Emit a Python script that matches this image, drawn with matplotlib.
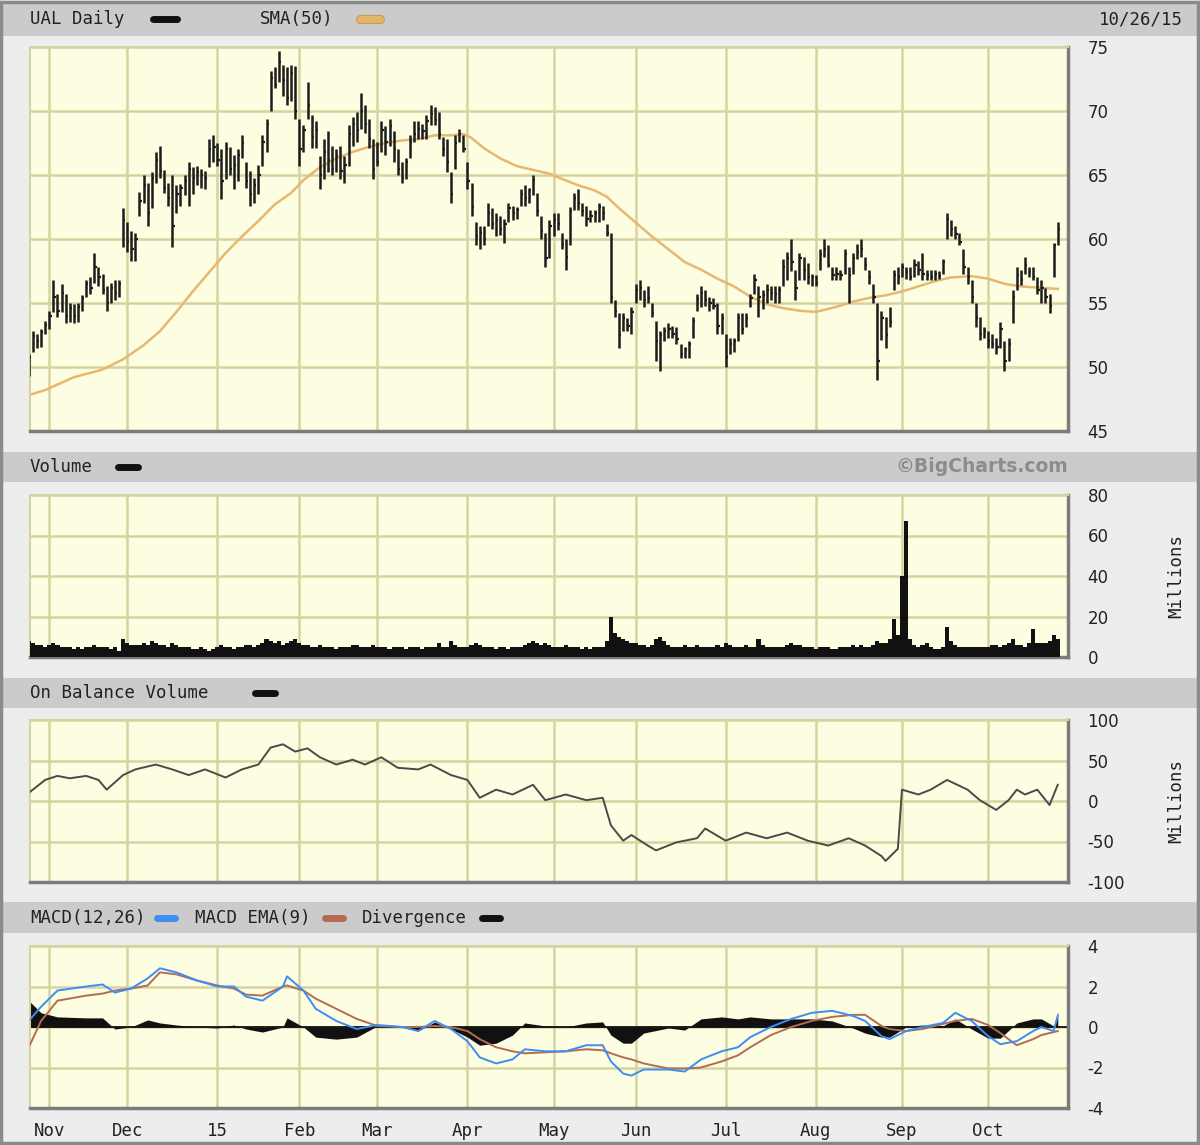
import numpy as np
import pandas as pd
import matplotlib
matplotlib.use("Agg")
import matplotlib.pyplot as plt
from matplotlib.patches import Rectangle
from matplotlib.lines import Line2D

plt.rcParams["axes.unicode_minus"] = False

# ---------------------------------------------------------------- data
holidays = ["2014-11-27", "2014-12-25", "2015-01-01", "2015-01-19", "2015-02-16",
            "2015-04-03", "2015-05-25", "2015-07-03", "2015-09-07"]
month_labels = ["Nov", "Dec", "15", "Feb", "Mar", "Apr", "May", "Jun", "Jul", "Aug", "Sep", "Oct"]

high = [51.0, 52.8, 52.6, 53.0, 53.6, 54.4, 56.8, 55.7, 56.5, 55.7,
        55.0, 54.9, 55.0, 55.6, 56.8, 57.0, 58.9, 57.8, 57.3, 56.3,
        56.6, 56.8, 56.8, 62.4, 61.3, 60.6, 60.5, 63.7, 65.0, 64.4,
        65.2, 66.8, 67.3, 65.4, 64.4, 65.0, 64.2, 64.3, 65.0, 66.0,
        65.6, 65.7, 65.5, 65.3, 67.8, 68.1, 67.5, 67.0, 67.6, 67.2,
        66.6, 67.0, 68.1, 66.0, 65.3, 64.8, 65.8, 68.1, 69.4, 73.1,
        73.4, 74.7, 73.6, 73.4, 73.6, 73.5, 69.4, 68.9, 72.3, 69.7,
        69.2, 66.5, 67.8, 68.4, 67.3, 67.0, 67.3, 66.5, 68.9, 69.5,
        69.9, 71.4, 70.5, 69.4, 67.8, 67.6, 69.2, 68.8, 69.4, 68.4,
        67.0, 66.0, 66.3, 68.1, 69.2, 69.2, 69.0, 69.7, 70.5, 70.3,
        69.9, 68.0, 67.8, 65.2, 68.1, 68.6, 68.1, 66.0, 64.4, 61.3,
        61.0, 61.0, 62.8, 62.4, 62.0, 61.8, 61.6, 62.8, 62.6, 62.5,
        63.9, 64.2, 64.0, 65.0, 63.6, 61.8, 60.5, 61.5, 62.0, 62.0,
        60.5, 60.0, 62.5, 63.6, 63.9, 62.8, 62.6, 62.3, 62.3, 62.8,
        62.6, 61.2, 60.5, 55.2, 54.2, 54.2, 53.8, 54.7, 56.5, 56.8,
        56.0, 56.3, 55.0, 53.6, 52.8, 53.1, 53.4, 53.2, 53.1, 51.8,
        51.6, 52.0, 53.9, 55.7, 56.3, 56.0, 55.5, 55.4, 55.0, 54.2,
        52.6, 52.3, 52.3, 54.2, 54.2, 54.2, 55.7, 57.3, 56.3, 56.0,
        56.5, 56.3, 56.3, 56.3, 58.4, 59.0, 60.0, 57.6, 58.9, 58.6,
        58.1, 57.3, 57.2, 59.2, 60.0, 59.5, 57.8, 57.8, 57.6, 59.2,
        57.8, 58.9, 59.6, 60.0, 58.6, 57.6, 56.5, 55.0, 54.4, 53.9,
        54.7, 57.6, 57.8, 58.1, 57.8, 57.8, 58.4, 58.3, 58.9, 57.6,
        57.6, 57.6, 57.5, 58.4, 62.0, 61.5, 61.0, 60.5, 59.2, 57.8,
        56.8, 55.0, 53.9, 53.1, 52.8, 52.6, 52.3, 53.5, 52.0, 52.3,
        56.0, 57.8, 57.6, 58.6, 57.8, 57.8, 57.0, 56.8, 56.2, 55.7,
        59.7, 61.3]
low = [49.3, 51.2, 51.5, 51.6, 52.6, 53.0, 54.3, 53.9, 54.3, 53.4,
       53.5, 53.4, 53.5, 54.4, 55.5, 55.7, 56.6, 56.3, 55.7, 54.4,
       55.0, 55.2, 55.5, 59.4, 59.0, 58.3, 58.3, 61.8, 62.8, 61.0,
       62.4, 64.4, 64.8, 63.6, 62.6, 59.4, 62.0, 62.6, 63.4, 62.6,
       63.5, 64.2, 64.0, 63.9, 65.6, 66.0, 65.7, 63.1, 64.7, 65.0,
       63.9, 64.5, 66.3, 64.0, 62.6, 62.8, 63.5, 65.7, 66.8, 70.0,
       71.8, 72.3, 71.2, 70.5, 70.8, 69.4, 65.7, 66.8, 69.4, 67.1,
       67.1, 63.9, 64.7, 65.2, 65.0, 65.2, 64.7, 64.4, 65.7, 67.3,
       67.6, 68.6, 68.3, 67.1, 64.7, 65.7, 66.8, 66.6, 67.3, 66.0,
       65.0, 64.4, 64.7, 66.3, 67.6, 67.8, 67.8, 67.8, 68.9, 68.9,
       67.8, 66.5, 65.2, 62.8, 65.5, 67.6, 66.8, 63.9, 61.8, 59.5,
       59.2, 59.5, 61.0, 60.8, 60.2, 60.3, 59.7, 61.3, 61.5, 61.6,
       62.6, 62.6, 62.8, 63.4, 61.8, 60.0, 57.8, 58.5, 60.2, 60.7,
       59.2, 57.6, 59.5, 62.3, 62.3, 61.8, 61.0, 61.3, 61.3, 61.3,
       61.5, 60.2, 55.0, 53.9, 51.5, 52.8, 52.8, 52.6, 55.0, 55.2,
       54.7, 55.0, 53.9, 50.5, 49.7, 52.0, 52.3, 52.3, 51.8, 50.7,
       50.7, 50.7, 52.3, 54.4, 54.7, 54.8, 54.4, 54.5, 52.6, 52.6,
       50.0, 51.0, 51.2, 52.0, 52.6, 53.1, 54.7, 55.7, 53.9, 54.5,
       55.0, 55.2, 55.0, 55.0, 56.3, 56.8, 57.5, 55.2, 56.8, 56.8,
       56.5, 56.3, 56.3, 57.6, 58.6, 57.8, 56.8, 56.8, 56.8, 57.3,
       55.0, 57.3, 58.4, 58.6, 57.6, 56.5, 55.0, 49.0, 52.1, 51.5,
       53.1, 56.0, 56.5, 57.0, 56.9, 56.8, 57.0, 57.2, 56.8, 56.8,
       56.8, 56.8, 56.9, 57.3, 60.0, 60.2, 60.0, 59.5, 57.3, 56.5,
       55.0, 53.1, 52.1, 52.3, 51.5, 51.5, 51.0, 51.5, 49.7, 50.5,
       53.4, 56.0, 56.4, 57.3, 57.0, 56.8, 55.7, 55.0, 55.0, 54.2,
       57.0, 59.5]
close = [50.8, 52.4, 52.0, 52.7, 53.3, 54.0, 55.5, 54.4, 55.8, 54.0,
         54.6, 54.0, 54.7, 55.4, 56.5, 56.2, 57.8, 57.0, 56.0, 55.0,
         56.2, 55.8, 56.5, 61.5, 59.8, 59.2, 60.0, 63.0, 64.2, 62.0,
         64.8, 66.2, 65.3, 64.0, 63.2, 61.0, 63.5, 64.0, 64.5, 65.5,
         64.8, 65.2, 65.0, 64.8, 67.0, 67.2, 66.2, 64.5, 67.0, 65.5,
         65.8, 66.6, 67.5, 64.5, 63.5, 64.2, 65.0, 67.6, 69.0, 72.6,
         72.0, 73.8, 72.4, 71.0, 73.0, 70.0, 67.0, 68.5, 70.5, 68.0,
         68.5, 65.0, 66.8, 66.2, 65.5, 66.5, 65.3, 65.8, 68.2, 69.0,
         68.5, 70.0, 69.0, 67.8, 65.5, 66.0, 68.5, 67.6, 68.8, 67.0,
         65.5, 64.8, 66.0, 67.6, 68.2, 68.6, 68.4, 69.2, 69.8, 69.3,
         68.2, 67.0, 66.0, 63.5, 67.5, 68.2, 67.0, 64.5, 62.5, 60.2,
         60.5, 60.0, 62.0, 61.2, 61.5, 60.8, 61.2, 62.4, 62.0, 62.3,
         63.5, 63.2, 63.8, 64.6, 62.2, 60.6, 58.5, 61.0, 61.5, 61.2,
         59.6, 58.6, 62.2, 63.2, 62.8, 62.2, 61.6, 61.8, 62.0, 62.5,
         62.0, 60.5, 55.5, 54.4, 52.5, 53.8, 53.2, 54.3, 56.0, 56.2,
         55.2, 55.4, 54.2, 52.0, 52.5, 52.8, 53.0, 52.6, 52.2, 51.0,
         51.4, 51.8, 53.6, 55.3, 55.8, 55.2, 55.0, 54.8, 53.2, 53.8,
         50.8, 51.8, 52.0, 53.8, 53.0, 53.8, 55.4, 56.8, 55.5, 55.6,
         56.0, 55.8, 55.7, 56.0, 57.8, 58.5, 58.2, 56.2, 58.5, 57.6,
         57.0, 57.0, 56.6, 58.8, 59.2, 58.0, 57.2, 57.3, 57.2, 58.8,
         57.2, 58.5, 59.0, 59.2, 58.0, 57.0, 55.5, 50.5, 53.8, 52.5,
         53.5, 57.2, 57.0, 57.8, 57.4, 57.0, 58.0, 57.6, 57.3, 57.2,
         57.0, 57.3, 57.1, 58.2, 61.6, 60.8, 60.4, 59.8, 57.8, 57.0,
         55.5, 53.8, 52.6, 52.8, 52.0, 51.8, 51.6, 53.0, 50.5, 51.8,
         55.5, 57.2, 56.8, 58.0, 57.4, 57.0, 56.0, 56.2, 55.5, 54.8,
         59.5, 60.8]

# 50-day simple moving average, read at selected sessions
sma_day = [0, 4, 11, 18, 23, 28, 32, 36, 40, 44, 48, 52, 56, 60, 64, 67, 71, 75, 79, 83,
           87, 91, 95, 99, 103, 106, 108, 111, 115, 119, 123, 127, 130, 134, 138, 141, 144,
           148, 152, 156, 160, 164, 168, 172, 176, 180, 184, 188, 192, 197, 201, 205, 209,
           213, 217, 221, 225, 230, 234, 238, 242, 246, 251]
sma_val = [47.8, 48.2, 49.2, 49.8, 50.6, 51.7, 52.8, 54.3, 55.9, 57.4, 58.9, 60.2, 61.4,
           62.7, 63.6, 64.6, 65.6, 66.3, 66.8, 67.2, 67.5, 67.7, 67.8, 68.1, 68.1, 68.2,
           67.9, 67.1, 66.3, 65.7, 65.4, 65.1, 64.7, 64.2, 63.8, 63.3, 62.4, 61.3, 60.2,
           59.2, 58.2, 57.6, 56.9, 56.3, 55.5, 54.9, 54.6, 54.4, 54.3, 54.7, 55.1, 55.4,
           55.6, 55.9, 56.3, 56.7, 57.0, 57.1, 56.9, 56.5, 56.3, 56.2, 56.1]

# daily volume, millions of shares
volume = [8, 7, 6, 6, 5, 6, 7, 6, 5, 5,
          5, 4, 5, 4, 5, 5, 6, 5, 5, 5,
          4, 5, 3, 9, 7, 6, 6, 6, 7, 6,
          8, 7, 6, 6, 5, 7, 6, 5, 5, 5,
          4, 4, 5, 4, 3, 4, 5, 6, 5, 5,
          4, 5, 5, 6, 6, 5, 6, 7, 9, 8,
          7, 8, 6, 7, 8, 9, 7, 6, 6, 5,
          5, 6, 5, 5, 5, 4, 5, 5, 5, 6,
          6, 5, 5, 5, 6, 5, 5, 5, 4, 5,
          5, 5, 4, 5, 5, 5, 4, 5, 5, 5,
          7, 5, 5, 8, 6, 5, 5, 5, 6, 7,
          6, 5, 5, 5, 4, 5, 5, 4, 5, 5,
          5, 6, 7, 8, 7, 6, 7, 6, 5, 5,
          5, 6, 5, 5, 5, 4, 5, 4, 5, 5,
          5, 8, 20, 12, 10, 9, 8, 7, 7, 6,
          6, 5, 6, 9, 10, 8, 6, 5, 5, 5,
          6, 5, 5, 6, 5, 5, 5, 5, 6, 5,
          7, 6, 5, 5, 5, 6, 5, 5, 9, 6,
          5, 5, 5, 5, 5, 6, 7, 6, 6, 5,
          5, 5, 4, 5, 5, 5, 4, 4, 5, 5,
          5, 6, 5, 6, 5, 5, 6, 8, 7, 7,
          9, 19, 11, 40, 67, 9, 6, 5, 6, 7,
          5, 4, 4, 5, 15, 8, 6, 5, 5, 5,
          5, 5, 5, 5, 5, 6, 6, 5, 6, 7,
          9, 6, 6, 5, 7, 14, 7, 7, 7, 8,
          11, 9]

# on balance volume, millions, read at selected sessions
obv_day = [0, 4, 7, 10, 14, 17, 19, 23, 26, 31, 35, 39, 43, 48, 52, 56, 59, 62, 65, 68,
           71, 75, 79, 82, 86, 90, 95, 98, 103, 107, 110, 114, 118, 123, 126, 131, 136,
           140, 142, 145, 147, 151, 153, 158, 163, 165, 170, 175, 180, 185, 190, 195,
           200, 204, 208, 209, 212, 213, 217, 220, 224, 229, 232, 236, 239, 241, 243,
           246, 249, 251]
obv_val = [10, 26, 31, 28, 31, 26, 14, 32, 39, 45, 39, 32, 39, 29, 39, 45, 66, 70, 61, 65,
           54, 45, 51, 45, 54, 41, 39, 45, 32, 26, 4, 14, 8, 20, 1, 8, 1,
           4, -30, -49, -42, -55, -61, -51, -46, -34, -49, -39, -46, -39, -49, -55,
           -46, -55, -68, -74, -59, 14, 8, 14, 26, 14, 1, -11, 1, 14, 8,
           14, -5, 20]

# MACD(12,26) and its 9-day EMA, read at the same sessions
macd_day = [0, 3, 7, 14, 18, 21, 25, 29, 32, 36, 41, 46, 50, 53, 57, 62, 63, 67, 70, 75,
            80, 85, 91, 95, 99, 103, 107, 110, 114, 118, 121, 126, 131, 136, 140, 142,
            145, 147, 150, 156, 160, 164, 169, 173, 176, 181, 186, 191, 196, 201, 204,
            208, 210, 214, 218, 223, 226, 230, 234, 237, 241, 245, 247, 250, 251]
macd_val = [0.3, 1.0, 1.8, 2.0, 2.1, 1.7, 1.9, 2.4, 2.9, 2.7,
            2.3, 2.0, 2.0, 1.5, 1.3, 2.0, 2.5, 1.8, 0.9, 0.3,
            -0.1, 0.1, 0.0, -0.2, 0.3, -0.1, -0.7, -1.5, -1.8, -1.6,
            -1.1, -1.2, -1.2, -0.9, -0.9, -1.7, -2.3, -2.4, -2.1, -2.1,
            -2.2, -1.6, -1.2, -1.0, -0.5, 0.0, 0.4, 0.7, 0.8, 0.55,
            0.3, -0.45, -0.6, -0.2, 0.0, 0.2, 0.7, 0.3, -0.45, -0.85,
            -0.7, -0.2, 0.0, -0.2, 0.55]
signal_val = [-1.0, 0.3, 1.3, 1.55, 1.65, 1.8, 1.9, 2.05, 2.7, 2.6,
              2.3, 2.05, 1.9, 1.6, 1.55, 2.0, 2.05, 1.8, 1.4, 0.9,
              0.4, 0.05, 0.0, 0.0, 0.05, 0.0, -0.2, -0.6, -1.0, -1.2,
              -1.3, -1.25, -1.2, -1.1, -1.15, -1.3, -1.5, -1.6, -1.8, -2.05,
              -2.05, -2.0, -1.7, -1.4, -1.0, -0.4, 0.0, 0.3, 0.5, 0.6,
              0.6, 0.05, -0.1, -0.2, -0.1, 0.15, 0.3, 0.4, 0.1, -0.3,
              -0.9, -0.6, -0.4, -0.25, -0.2]

# ---------------------------------------------------------------- sessions
sessions = pd.bdate_range("2014-10-27", "2015-10-26")
sessions = sessions[~sessions.isin(pd.to_datetime(holidays))]
n = min(len(sessions), len(close))
idx = np.arange(n)
month_pos = [i for i in range(1, n) if sessions[i].month != sessions[i - 1].month]

# ---------------------------------------------------------------- style
W, H = 1200, 1145
BG = "#ededed"
BAND = "#cbcbcb"
PLOT_BG = "#fdfde1"
GRID = "#d7d3a0"
SHADOW = "#7c7c7c"
TXT = "#222222"
MONO = "DejaVu Sans Mono"

fig = plt.figure(figsize=(W / 100, H / 100), dpi=100, facecolor=BG)


def fx(px):
    return px / W


def fy(py):
    return 1 - py / H


def panel(top, bottom):
    ax = fig.add_axes([fx(30), fy(bottom), fx(1038), (bottom - top) / H])
    ax.set_facecolor(PLOT_BG)
    ax.set_xlim(0.3, 253.5)
    ax.set_xticks(month_pos)
    ax.tick_params(axis="x", length=0, labelbottom=False)
    ax.yaxis.tick_right()
    ax.tick_params(axis="y", length=0, pad=14, labelsize=12, labelcolor=TXT)
    ax.grid(True, color=GRID, lw=1.8)
    ax.set_axisbelow(True)
    for s in ("top", "left"):
        ax.spines[s].set_color(GRID)
        ax.spines[s].set_linewidth(1.5)
    for s in ("bottom", "right"):
        ax.spines[s].set_color(SHADOW)
        ax.spines[s].set_linewidth(2.5)
    for lab in ax.get_yticklabels():
        lab.set_horizontalalignment("left")
    return ax


def band(top, bottom):
    fig.patches.append(Rectangle((fx(3), fy(bottom)), fx(1194), (bottom - top) / H,
                                 transform=fig.transFigure, facecolor=BAND,
                                 edgecolor="none", zorder=0))


def header_text(px, py, s, **kw):
    fig.text(fx(px), fy(py), s, fontfamily=MONO, fontsize=12.5, color=TXT,
             va="center", ha="left", **kw)


def swatch(x0, x1, py, color, edge=None):
    if edge:
        fig.add_artist(Line2D([fx(x0), fx(x1)], [fy(py)] * 2, lw=6.5, color=edge,
                              solid_capstyle="round"))
    fig.add_artist(Line2D([fx(x0), fx(x1)], [fy(py)] * 2, lw=5, color=color,
                          solid_capstyle="round"))


# header bands
band(3, 36)
band(452, 482)
band(678, 708)
band(902, 933)

header_text(30, 19, "UAL Daily")
swatch(153, 177, 19, "#111111")
header_text(260, 19, "SMA(50)")
swatch(360, 380, 19, "#e3b66c", edge="#c99a52")
fig.text(fx(1183), fy(19), sessions[n - 1].strftime("%m/%d/%y"), fontfamily=MONO,
         fontsize=12.5, color=TXT, va="center", ha="right")

header_text(30, 467, "Volume")
swatch(118, 138, 467, "#111111")
fig.text(fx(1068), fy(467), "\u00a9BigCharts.com", fontfamily="DejaVu Sans",
         fontweight="bold", fontsize=13.5, color="#8c8c8c", va="center", ha="right")

header_text(30, 693, "On Balance Volume")
swatch(255, 275, 693, "#111111")

header_text(30, 918, "MACD(12,26)")
swatch(157, 175, 918, "#3d8ef2")
header_text(195, 918, "MACD EMA(9)")
swatch(325, 343, 918, "#b36c52")
header_text(362, 918, "Divergence")
swatch(482, 500, 918, "#111111")

# ---------------------------------------------------------------- price
ax1 = panel(47, 431)
ax1.set_ylim(45, 75)
ax1.set_yticks(np.arange(45, 76, 5))
ax1.plot(sma_day, sma_val, color="#e6b872", lw=1.8, zorder=2)
ax1.vlines(idx, low[:n], high[:n], color="#1c1c1c", lw=1.8, zorder=3)
ax1.hlines(close[:n], idx, idx + 0.55, color="#1c1c1c", lw=1.6, zorder=3)

# ---------------------------------------------------------------- volume
ax2 = panel(495, 657)
ax2.set_ylim(0, 80)
ax2.set_yticks(np.arange(0, 81, 20))
ax2.bar(idx, volume[:n], width=1.0, color="#111111", edgecolor="none", zorder=3)
fig.text(fx(1176), fy(576), "Millions", fontfamily=MONO, fontsize=12.5, color=TXT,
         rotation=90, va="center", ha="center")

# ---------------------------------------------------------------- on balance volume
ax3 = panel(720, 882)
ax3.set_ylim(-100, 100)
ax3.set_yticks(np.arange(-100, 101, 50))
ax3.plot(obv_day, obv_val, color="#4a4a4a", lw=1.4, zorder=3)
fig.text(fx(1176), fy(801), "Millions", fontfamily=MONO, fontsize=12.5, color=TXT,
         rotation=90, va="center", ha="center")

# ---------------------------------------------------------------- MACD
ax4 = panel(946, 1108)
ax4.set_ylim(-4, 4)
ax4.set_yticks(np.arange(-4, 5, 2))
divergence = np.array(macd_val) - np.array(signal_val)
ax4.fill_between(macd_day, divergence, 0, color="#111111", lw=0, zorder=2)
ax4.axhline(0, color="#111111", lw=1.3, zorder=2)
ax4.plot(macd_day, signal_val, color="#b36c52", lw=1.4, zorder=3)
ax4.plot(macd_day, macd_val, color="#3d8ef2", lw=1.4, zorder=4)
ax4.tick_params(axis="x", labelbottom=True, pad=10)
ax4.set_xticklabels(month_labels, fontfamily=MONO, fontsize=12.5, color=TXT)

# outer frame
fig.patches.append(Rectangle((0.001, 0.002), 0.997, 0.996, transform=fig.transFigure,
                             facecolor="none", edgecolor="#8a8a8a", lw=2.5, zorder=0))

fig.savefig("out.png", dpi=100, facecolor=BG)
